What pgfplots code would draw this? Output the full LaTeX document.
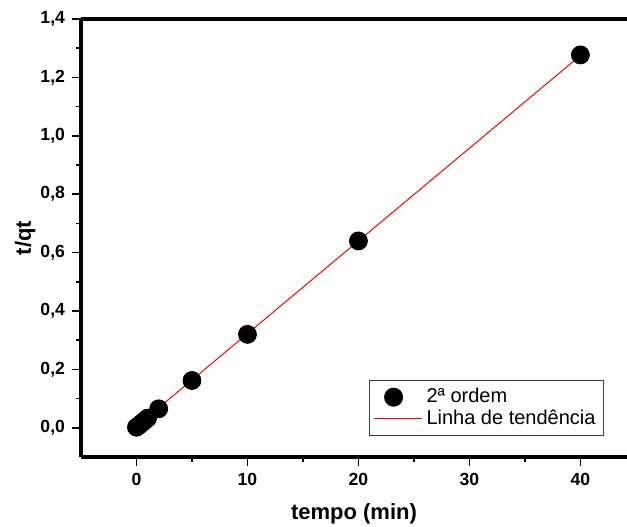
\documentclass[border=0pt]{standalone}
\usepackage{fontspec}
\setmainfont{Liberation Sans}
\usepackage{pgfplots}
\pgfplotsset{compat=1.18}
\begin{document}
\begin{tikzpicture}
\begin{axis}[
  name=ax,
  scale only axis, width=273pt, height=219pt,
  xmin=-5, xmax=44.2, ymin=-0.1, ymax=1.4,
  axis x line*=box, axis y line*=left,
  xtick={0,10,20,30,40},
  ytick={0,0.2,0.4,0.6,0.8,1.0,1.2,1.4},
  minor x tick num=1, minor y tick num=1,
  xtick pos=bottom, ytick pos=left,
  tick align=outside,
  major tick length=4.5pt, minor tick length=2.5pt,
  every tick/.style={black, line width=0.8pt},
  axis line style={line width=1.6pt},
  /pgf/number format/assume math mode=true,
  tick label style={font=\bfseries\fontsize{8.8}{10}\selectfont},
  yticklabel style={/pgf/number format/.cd, fixed, fixed zerofill, precision=1, use comma},
  xlabel={tempo (min)}, ylabel={t/qt},
  every axis y label/.style={at={(axis description cs:-0.102,0.5)}, anchor=center,
    rotate=90, font=\bfseries\fontsize{11}{13}\selectfont},
  every axis x label/.style={at={(axis description cs:0.5,-0.130)}, anchor=center,
    font=\bfseries\fontsize{11}{13}\selectfont},
  legend style={at={(0.958,0.048)}, anchor=south east, draw=black!75,
    line width=0.5pt, font=\fontsize{10}{11.5}\selectfont,
    row sep=-2pt, inner sep=2pt},
  legend cell align=left,
]
% pontos experimentais
\addplot[only marks, mark=*, mark size=4.5pt, black, fill=black]
coordinates {
  (0,0.002) (0.25,0.009) (0.5,0.017) (0.75,0.025) (1,0.033)
  (2,0.065) (5,0.162) (10,0.320) (20,0.640) (40,1.277)
};
\addlegendentry{2ª ordem}
% ajuste linear
\addplot[red, line width=0.5pt,
  legend image code/.code={\draw[red, line width=0.5pt] (-0.05cm,0cm) -- (0.8cm,0cm);}]
coordinates { (0,0.005) (40,1.275) };
\addlegendentry{Linha de tendência}
\end{axis}
% margens da figura
\pgfresetboundingbox
\path[use as bounding box] ([shift={(-40.5pt,-34.5pt)}]ax.south west) rectangle ([shift={(0pt,9.5pt)}]ax.north east);
\end{tikzpicture}
\end{document}
